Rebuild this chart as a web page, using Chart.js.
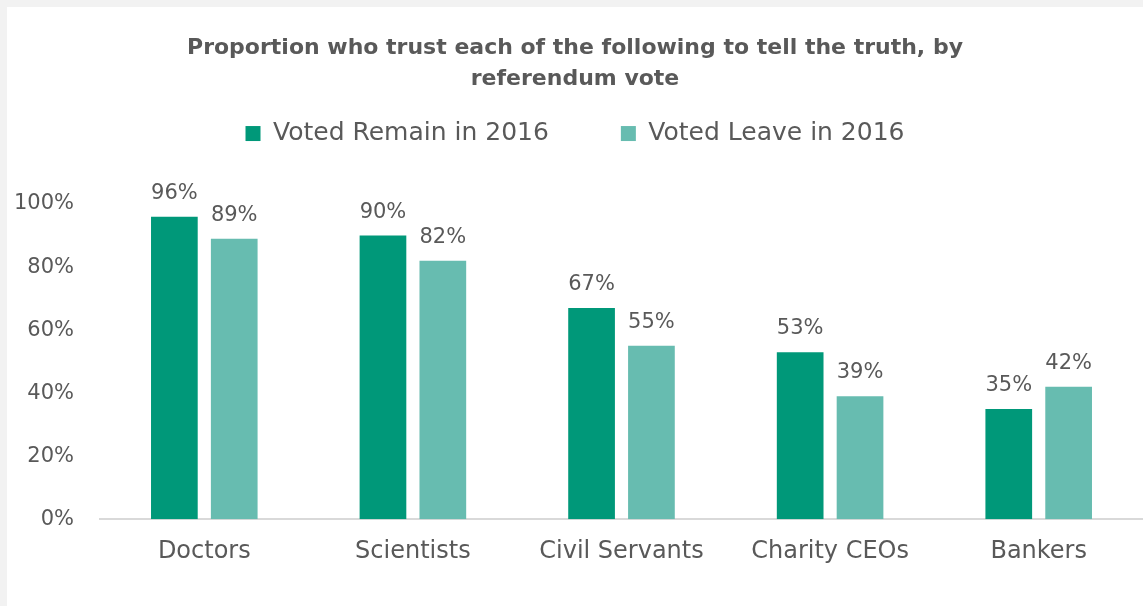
<!DOCTYPE html>
<html>
<head>
<meta charset="utf-8">
<script src="https://cdn.jsdelivr.net/npm/chart.js@4"></script>
<style>
    html, body {
        margin: 0;
        padding: 0;
        background: #f2f2f2;
    }
    #frame {
        position: absolute;
        left: 7px;
        top: 7px;
        width: 1136px;
        height: 599px;
        background: #ffffff;
    }
</style>
</head>
<body>
<div id="frame">
    <canvas id="trustChart" width="1136" height="599"></canvas>
</div>
<script>
const categories = ["Doctors", "Scientists", "Civil Servants", "Charity CEOs", "Bankers"];
const remainValues = [96, 90, 67, 53, 35];
const leaveValues = [89, 82, 55, 39, 42];
const yTicks = [0, 20, 40, 60, 80, 100];

const textColor = "#595959";
const fontFamily = "'DejaVu Sans', sans-serif";

// writes the percentage above every bar
const valueLabels = {
    id: "valueLabels",
    afterDatasetsDraw(chart) {
        const ctx = chart.ctx;
        ctx.save();
        ctx.fillStyle = textColor;
        ctx.font = "21px " + fontFamily;
        ctx.textAlign = "center";
        ctx.textBaseline = "bottom";
        chart.data.datasets.forEach((ds, i) => {
            chart.getDatasetMeta(i).data.forEach((bar, j) => {
                ctx.fillText(ds.data[j] + "%", bar.x, bar.y - 13);
            });
        });
        ctx.restore();
    },
};

// fixed legend height so the plot area starts lower
const legendHeight = {
    id: "legendHeight",
    beforeInit(chart) {
        const fit = chart.legend.fit;
        chart.legend.fit = function () {
            fit.call(this);
            this.height = 155;
        };
    },
};

let ctx = document.getElementById("trustChart").getContext("2d");

new Chart(ctx, {
    type: "bar",
    data: {
        labels: categories,
        datasets: [
            {
                label: "Voted Remain in 2016",
                data: remainValues,
                backgroundColor: "#009879",
                borderWidth: 0,
                categoryPercentage: 0.574,
                barPercentage: 0.78,
            },
            {
                label: "Voted Leave in 2016",
                data: leaveValues,
                backgroundColor: "#67bcb0",
                borderWidth: 0,
                categoryPercentage: 0.574,
                barPercentage: 0.78,
            },
        ],
    },
    options: {
        responsive: false,
        animation: false,
        layout: {
            padding: { left: 0, right: 0, top: 26, bottom: 30 },
        },
        plugins: {
            title: {
                display: true,
                text: ["Proportion who trust each of the following to tell the truth, by", "referendum vote"],
                color: textColor,
                font: { family: fontFamily, size: 22, weight: "bold", lineHeight: 1.41 },
                padding: { top: 0, bottom: -46 },
            },
            legend: {
                display: true,
                labels: {
                    color: textColor,
                    font: { family: fontFamily, size: 25 },
                    boxWidth: 15,
                    boxHeight: 15,
                    padding: 72,
                },
            },
            tooltip: { enabled: false },
        },
        scales: {
            x: {
                grid: { display: false },
                border: { display: true, color: "#d9d9d9", width: 2 },
                ticks: {
                    color: textColor,
                    font: { family: fontFamily, size: 24 },
                    padding: 10,
                },
            },
            y: {
                min: 0,
                max: 100,
                afterFit(scale) {
                    scale.width = 93;
                },
                afterBuildTicks(scale) {
                    scale.ticks = yTicks.map((v) => ({ value: v }));
                },
                grid: { display: false },
                border: { display: false },
                ticks: {
                    color: textColor,
                    font: { family: fontFamily, size: 21 },
                    padding: 18,
                    callback: (v) => v + "%",
                },
            },
        },
    },
    plugins: [valueLabels, legendHeight],
});
</script>
</body>
</html>
